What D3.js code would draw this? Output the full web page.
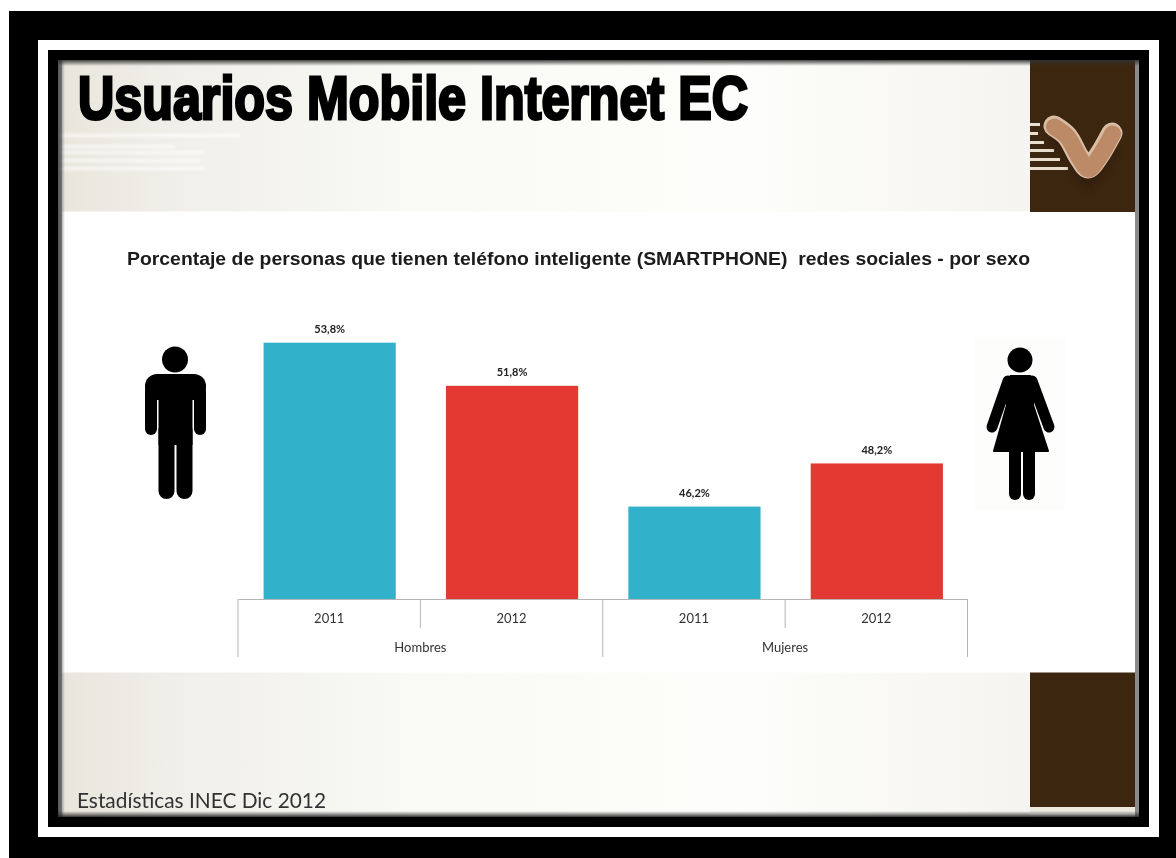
<!DOCTYPE html>
<html lang="es">
<head>
<meta charset="utf-8">
<title>Usuarios Mobile Internet EC</title>
<script src="https://cdn.jsdelivr.net/npm/d3@7/dist/d3.min.js"></script>
<style>
html, body { margin: 0; padding: 0; background: #fff; }
svg { display: block; }
text { font-family: "Liberation Sans", Arial, sans-serif; }
</style>
</head>
<body>
<div id="chart"></div>
<script>
// Smartphone ownership by sex and year
const sexes = ["Hombres", "Mujeres"];
const years = ["2011", "2012"];
const valuesHombres = [53.8, 51.8];
const valuesMujeres = [46.2, 48.2];
const yearColors = ["#32b1cb", "#e43732"];

const titleText = "Usuarios Mobile Internet EC";
const subtitleText = "Porcentaje de personas que tienen teléfono inteligente (SMARTPHONE)  redes sociales - por sexo";
const sourceText = "Estadísticas INEC Dic 2012";

const W = 1176, H = 858;
const svg = d3.select("#chart").append("svg").attr("width", W).attr("height", H);
const defs = svg.append("defs");

// Blur filters span the whole canvas so stroked shapes are never clipped
function blurFilter(id, sd) {
  defs.append("filter").attr("id", id).attr("filterUnits", "userSpaceOnUse")
    .attr("x", 0).attr("y", 0).attr("width", W).attr("height", H)
    .append("feGaussianBlur").attr("stdDeviation", sd);
}
blurFilter("soft", 0.65);
blurFilter("softer", 1.5);
blurFilter("hazy", 3);

function gradient(id, horizontal, stops) {
  const g = defs.append("linearGradient").attr("id", id)
    .attr("x1", 0).attr("y1", 0).attr("x2", horizontal ? 1 : 0).attr("y2", horizontal ? 0 : 1);
  stops.forEach(([o, c, a]) => g.append("stop").attr("offset", o).attr("stop-color", c).attr("stop-opacity", a === undefined ? 1 : a));
}
gradient("band", true, [[0, "#e8e6dc"], [0.12, "#f0efe9"], [0.36, "#f9f9f5"], [0.7, "#fdfdfb"], [1, "#f5f4f0"]]);
gradient("edgeLeft", true, [[0, "#555", 1], [1, "#555", 0]]);
gradient("edgeTop", false, [[0, "#333", 0.9], [1, "#333", 0]]);
gradient("edgeBottom", false, [[0, "#333", 0], [1, "#222", 0.9]]);

// Nested frame around the slide
const frame = svg.append("g");
frame.append("rect").attr("x", 9).attr("y", 11).attr("width", W - 9).attr("height", H - 11).attr("fill", "#000");
frame.append("rect").attr("x", 38).attr("y", 40).attr("width", 1121).attr("height", 797).attr("fill", "#fff");
frame.append("rect").attr("x", 48).attr("y", 50).attr("width", 1101).attr("height", 777).attr("fill", "#000");

// Slide background
const slide = svg.append("g");
slide.append("rect").attr("x", 58).attr("y", 60).attr("width", 1081).attr("height", 757).attr("fill", "#8a8a8a");
slide.append("rect").attr("x", 62).attr("y", 60).attr("width", 1073).attr("height", 757).attr("fill", "#fff");
slide.append("rect").attr("x", 62).attr("y", 60).attr("width", 968).attr("height", 151.5).attr("fill", "url(#band)");
slide.append("rect").attr("x", 62).attr("y", 672.5).attr("width", 968).attr("height", 144.5).attr("fill", "url(#band)");

// Faint speed lines in the header band
const faintRows = [135, 146, 152, 160, 168];
const faintEnds = [240, 175, 205, 200, 205];
slide.append("g").attr("filter", "url(#softer)").selectAll("rect").data(faintRows).join("rect")
  .attr("x", 62).attr("y", d => d - 1).attr("height", 3)
  .attr("width", (d, i) => faintEnds[i] - 62).attr("fill", "#fff").attr("opacity", 0.7);

// Brown side panels
slide.append("rect").attr("x", 1030).attr("y", 60).attr("width", 105).attr("height", 152).attr("fill", "#3d2610");
slide.append("rect").attr("x", 1030).attr("y", 672.5).attr("width", 105).attr("height", 134.5).attr("fill", "#3d2610");
slide.append("rect").attr("x", 1030).attr("y", 807).attr("width", 105).attr("height", 6).attr("fill", "#ebe8de");

// Inner shading along the slide edges
slide.append("rect").attr("x", 58).attr("y", 60).attr("width", 7).attr("height", 757).attr("fill", "url(#edgeLeft)");
slide.append("rect").attr("x", 58).attr("y", 60).attr("width", 1081).attr("height", 6).attr("fill", "url(#edgeTop)");
slide.append("rect").attr("x", 58).attr("y", 811).attr("width", 1081).attr("height", 6).attr("fill", "url(#edgeBottom)");

// Logo: speed lines and the rounded V
const logo = svg.append("g");
const speedRows = [124, 133, 142, 150, 159, 168];
const speedEnds = [1040, 1038, 1044, 1054, 1060, 1068];
logo.append("g").selectAll("rect").data(speedRows).join("rect")
  .attr("x", 1030).attr("y", d => d - 1).attr("height", 3)
  .attr("width", (d, i) => speedEnds[i] - 1030).attr("fill", "#eadfce").attr("filter", "url(#soft)");
const vPath = d3.line().curve(d3.curveCatmullRom.alpha(0.5));
const vOuter = [[1054, 126], [1067, 136], [1079, 157], [1088, 168], [1098, 157], [1112, 133]];
logo.append("path").attr("d", vPath(vOuter.map(([a, b]) => [a, b + 14])))
  .attr("fill", "none").attr("stroke", "#2a1708").attr("stroke-width", 12).attr("stroke-linecap", "round")
  .attr("opacity", 0.5).attr("filter", "url(#hazy)");
logo.append("path").attr("d", vPath(vOuter))
  .attr("fill", "none").attr("stroke", "#d9bea6").attr("stroke-width", 21).attr("stroke-linecap", "round")
  .attr("stroke-linejoin", "round").attr("filter", "url(#soft)");
logo.append("path").attr("d", vPath(vOuter.map(([a, b]) => [a + 0.5, b + 1])))
  .attr("fill", "none").attr("stroke", "#bd8a68").attr("stroke-width", 17).attr("stroke-linecap", "round")
  .attr("stroke-linejoin", "round").attr("filter", "url(#soft)");

// Heading and subtitle
svg.append("text").attr("x", 78).attr("y", 118.5).attr("fill", "#000")
  .attr("font-size", 62).attr("font-weight", 700)
  .attr("textLength", 670).attr("lengthAdjust", "spacingAndGlyphs")
  .attr("stroke", "#000").attr("stroke-width", 3).attr("filter", "url(#soft)")
  .style("font-family", '"Liberation Sans Narrow", "Liberation Sans", sans-serif')
  .text(titleText);
svg.append("text").attr("x", 127).attr("y", 265).attr("fill", "#1a1a1a")
  .attr("font-size", 18).attr("font-weight", 700)
  .attr("textLength", 903).attr("lengthAdjust", "spacingAndGlyphs")
  .style("white-space", "pre").attr("filter", "url(#soft)")
  .text(subtitleText);

// Chart scales
const rows = sexes.flatMap((s, i) => years.map((yr, j) => ({
  sex: s, year: yr, yearIndex: j,
  value: (i === 0 ? valuesHombres : valuesMujeres)[j]
})));
const x0 = d3.scaleBand().domain(sexes).range([238, 967.5]);
const x1 = d3.scaleBand().domain(years).range([0, x0.bandwidth()]).paddingInner(0.275).paddingOuter(0.1375);
const y = d3.scaleLinear().domain([41.9, 53.8]).range([599.3, 342.7]);
const fmt = v => d3.format(".1f")(v).replace(".", ",") + "%";

const plot = svg.append("g").attr("filter", "url(#soft)");
plot.selectAll("rect.bar").data(rows).join("rect").attr("class", "bar")
  .attr("x", d => x0(d.sex) + x1(d.year) + 0.5)
  .attr("y", d => y(d.value))
  .attr("width", x1.bandwidth())
  .attr("height", d => y.range()[0] - y(d.value))
  .attr("fill", d => yearColors[d.yearIndex]);
plot.selectAll("text.val").data(rows).join("text").attr("class", "val")
  .attr("x", d => x0(d.sex) + x1(d.year) + x1.bandwidth() / 2 + 0.5)
  .attr("y", d => y(d.value) - 9.5)
  .attr("text-anchor", "middle").attr("font-size", 11).attr("font-weight", 700)
  .attr("fill", "#222").style("font-family", "Lato, sans-serif")
  .text(d => fmt(d.value));

// Two-level category axis: years above, sex below
const axisColor = "#b5b5b5";
const axisG = plot.append("g");
const yearAxis = d3.axisBottom(d3.scaleBand().domain(d3.range(4)).range(x0.range()))
  .tickSize(0).tickPadding(15).tickFormat(i => rows[i].year);
const ya = axisG.append("g").attr("transform", "translate(0,599)").call(yearAxis);
ya.select(".domain").attr("stroke", axisColor);
ya.selectAll("text").attr("font-size", 13).attr("fill", "#333").style("font-family", "Lato, sans-serif");

const xEdges = x0.range();
const sexEdges = [xEdges[0], x0("Mujeres"), xEdges[1]];
axisG.selectAll("line.long").data(sexEdges).join("line").attr("class", "long")
  .attr("x1", d => d).attr("x2", d => d).attr("y1", 599).attr("y2", 657).attr("stroke", axisColor);
axisG.selectAll("line.short").data(sexes).join("line").attr("class", "short")
  .attr("x1", d => x0(d) + x0.bandwidth() / 2).attr("x2", d => x0(d) + x0.bandwidth() / 2)
  .attr("y1", 599).attr("y2", 628).attr("stroke", axisColor);
axisG.selectAll("text.sex").data(sexes).join("text").attr("class", "sex")
  .attr("x", d => x0(d) + x0.bandwidth() / 2).attr("y", 652)
  .attr("text-anchor", "middle").attr("font-size", 13).attr("fill", "#333")
  .style("font-family", "Lato, sans-serif").text(d => d);

// Pictograms beside the chart
function limb(g, x1p, y1p, x2p, y2p, w) {
  g.append("line").attr("x1", x1p).attr("y1", y1p).attr("x2", x2p).attr("y2", y2p)
    .attr("stroke", "#000").attr("stroke-width", w).attr("stroke-linecap", "round");
}
const man = svg.append("g").attr("filter", "url(#soft)");
man.append("circle").attr("cx", 175).attr("cy", 359.5).attr("r", 13).attr("fill", "#000");
man.append("rect").attr("x", 145).attr("y", 374).attr("width", 61).attr("height", 26).attr("rx", 12).attr("fill", "#000");
man.append("rect").attr("x", 158.5).attr("y", 385).attr("width", 34).attr("height", 60).attr("fill", "#000");
limb(man, 151, 392, 151, 429, 12);
limb(man, 200, 392, 200, 429, 12);
limb(man, 166.5, 430, 166.5, 491, 16);
limb(man, 184.5, 430, 184.5, 491, 16);

svg.append("rect").attr("x", 975).attr("y", 337).attr("width", 90).attr("height", 173).attr("fill", "#fdfdfc").attr("filter", "url(#softer)");
const woman = svg.append("g").attr("filter", "url(#soft)");
woman.append("circle").attr("cx", 1020).attr("cy", 360).attr("r", 12.5).attr("fill", "#000");
woman.append("path").attr("d", d3.line()([[1010, 376], [1030, 376], [1034, 390], [1033, 405], [1048, 451], [994, 451], [1007, 405], [1006, 390]]))
  .attr("fill", "#000").attr("stroke", "#000").attr("stroke-width", 2).attr("stroke-linejoin", "round");
limb(woman, 1008, 381, 992, 427, 11);
limb(woman, 1032, 381, 1049, 427, 11);
limb(woman, 1015, 450, 1015, 494, 12);
limb(woman, 1029, 450, 1029, 494, 12);

// Source note
svg.append("text").attr("x", 77).attr("y", 808).attr("fill", "#333")
  .attr("font-size", 21).attr("filter", "url(#soft)")
  .style("font-family", "Lato, sans-serif")
  .attr("textLength", 249).attr("lengthAdjust", "spacingAndGlyphs")
  .text(sourceText);
</script>
</body>
</html>
